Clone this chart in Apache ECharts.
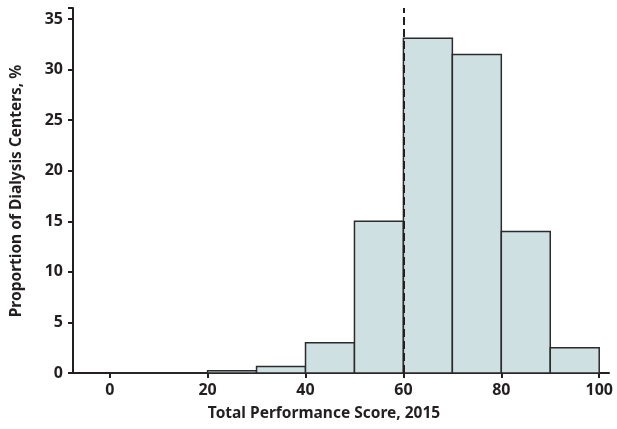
<!DOCTYPE html>
<html>
<head>
<meta charset="utf-8">
<script src="https://cdn.jsdelivr.net/npm/echarts@6/dist/echarts.min.js"></script>
<style>html,body{margin:0;padding:0;background:#fff}#c{width:617px;height:429px}</style>
</head>
<body>
<div id="c"></div>
<script>
const binStarts = [0, 10, 20, 30, 40, 50, 60, 70, 80, 90];
const binEnds = [10, 20, 30, 40, 50, 60, 70, 80, 90, 100];
const proportions = [0, 0, 0.23, 0.65, 3.0, 15.0, 33.1, 31.5, 14.0, 2.5];
const xTicks = [0, 20, 40, 60, 80, 100];
const threshold = 60;
const xTitle = 'Total Performance Score, 2015';
const yTitle = 'Proportion of Dialysis Centers, %';

const FONT = '"Noto Sans", sans-serif';
const chart = echarts.init(document.getElementById('c'), null, {renderer: 'canvas'});
const data = binStarts.map((s, i) => [s, binEnds[i], proportions[i]]);

chart.setOption({
  animation: false,
  grid: {left: 73, right: 8, top: 8, bottom: 56},
  xAxis: {
    type: 'value', min: -7.5, max: 102,
    splitLine: {show: false},
    axisLine: {onZero: false, lineStyle: {color: '#231f20', width: 2}},
    axisTick: {show: true, customValues: xTicks, length: 5, lineStyle: {color: '#231f20', width: 2}},
    axisLabel: {customValues: xTicks, margin: 9, color: '#231f20', fontSize: 16, fontWeight: 'bold', fontFamily: FONT}
  },
  yAxis: {
    type: 'value', min: 0, max: 36.1, interval: 5,
    splitLine: {show: false},
    axisLine: {show: true, onZero: false, lineStyle: {color: '#231f20', width: 2}},
    axisTick: {show: true, length: 5, lineStyle: {color: '#231f20', width: 2}},
    axisLabel: {margin: 10, color: '#231f20', fontSize: 16, fontWeight: 'bold', fontFamily: FONT,
      showMaxLabel: true, formatter: v => (v % 5 === 0 ? String(v) : '')}
  },
  graphic: [
    {type: 'text', x: 324, y: 414, style: {text: xTitle, fill: '#231f20', font: 'bold 15.5px ' + FONT, align: 'center', verticalAlign: 'middle'}},
    {type: 'text', x: 17, y: 191, rotation: Math.PI / 2, style: {text: yTitle, fill: '#231f20', font: 'bold 15.5px ' + FONT, align: 'center', verticalAlign: 'middle'}}
  ],
  series: [{
    type: 'custom',
    data: data,
    encode: {x: [0, 1], y: 2},
    renderItem: function (params, api) {
      const p0 = api.coord([api.value(0), 0]);
      const p1 = api.coord([api.value(1), api.value(2)]);
      return {
        type: 'rect',
        shape: {x: p0[0], y: p1[1], width: p1[0] - p0[0], height: p0[1] - p1[1]},
        style: {fill: '#cfe0e3', stroke: '#2b2b2b', lineWidth: 1.5}
      };
    },
    markLine: {
      silent: true, symbol: 'none', label: {show: false},
      lineStyle: {color: '#231f20', width: 2, type: [8, 4]},
      data: [{xAxis: threshold}]
    },
    z: 2
  }]
});
</script>
</body>
</html>
